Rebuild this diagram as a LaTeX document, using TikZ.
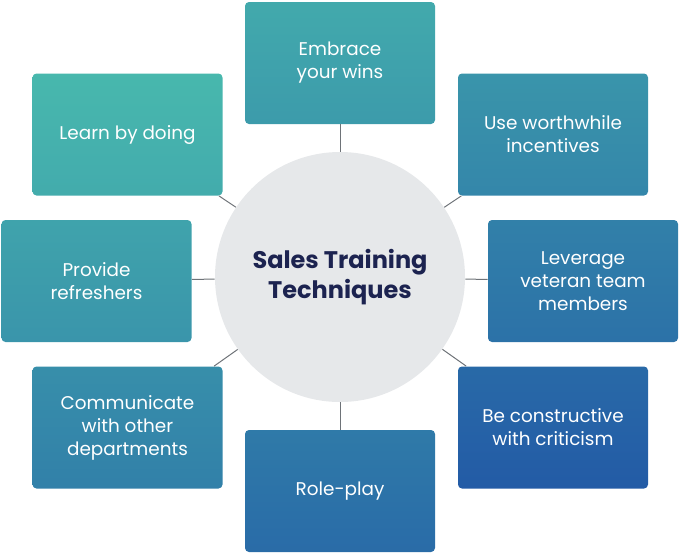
\documentclass[tikz,border=0pt]{standalone}
\usepackage{fontspec}
\setmainfont{Poppins}
\definecolor{tealA}{HTML}{4BC0AE}
\definecolor{blueB}{HTML}{2259A6}
\definecolor{hubgray}{HTML}{E6E8EA}
\definecolor{navy}{HTML}{1C2350}
\definecolor{linkgray}{HTML}{6E7378}
\begin{document}
\begin{tikzpicture}[x=0.5pt, y=-0.5pt,
	box/.style={rounded corners=2pt, minimum width=95pt, minimum height=61pt,
		align=center, text=white, font=\fontsize{9.2}{11.5}\selectfont},
	hub/.style={circle, fill=hubgray, minimum size=125pt, align=center,
		text=navy, font=\fontsize{12}{15}\bfseries\selectfont},
	link/.style={draw=linkgray, line width=0.5pt}]
	\useasboundingbox (0, 0) rectangle (680, 554);

	\node[hub] (hub) at (340, 277) {Sales Training\\Techniques};

	\node[box, top color=blueB!8!tealA, bottom color=blueB!20!tealA] (learn) at (127.5, 134.5) {Learn by doing};
	\node[box, top color=blueB!22!tealA, bottom color=blueB!36!tealA] (embrace) at (340, 63) {Embrace\\your wins};
	\node[box, top color=blueB!28!tealA, bottom color=blueB!42!tealA] (provide) at (96.5, 281) {Provide\\refreshers};
	\node[box, top color=blueB!42!tealA, bottom color=blueB!56!tealA] (use) at (553, 134.5) {Use worthwhile\\incentives};
	\node[box, top color=blueB!48!tealA, bottom color=blueB!62!tealA] (comm) at (127.5, 427.5) {Communicate\\with other\\departments};
	\node[box, top color=blueB!62!tealA, bottom color=blueB!76!tealA] (leverage) at (583, 281) {Leverage\\veteran team\\members};
	\node[box, top color=blueB!68!tealA, bottom color=blueB!82!tealA] (role) at (340, 491) {Role-play};
	\node[box, top color=blueB!84!tealA, bottom color=blueB!98!tealA] (constr) at (553, 427.5) {Be constructive\\with criticism};

	\foreach \n in {learn, embrace, provide, use, comm, leverage, role, constr}
		\draw[link] (hub) -- (\n);
\end{tikzpicture}
\end{document}
